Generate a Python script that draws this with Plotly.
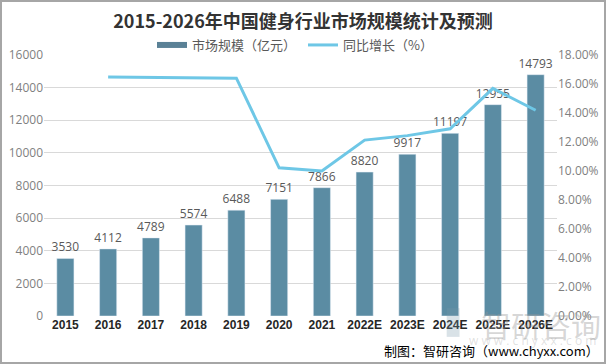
import plotly.graph_objects as go

years = ["2015", "2016", "2017", "2018", "2019", "2020", "2021",
         "2022E", "2023E", "2024E", "2025E", "2026E"]
market_size = [3530, 4112, 4789, 5574, 6488, 7151, 7866, 8820, 9917, 11197, 12955, 14793]
growth_years = ["2016", "2017", "2018", "2019", "2020", "2021",
                "2022E", "2023E", "2024E", "2025E", "2026E"]
growth_rate = [0.1649, 0.1646, 0.1639, 0.1640, 0.1022, 0.1000,
               0.1213, 0.1244, 0.1291, 0.1570, 0.1419]

left_ticks = [0, 2000, 4000, 6000, 8000, 10000, 12000, 14000, 16000]
right_ticks = [0, 0.02, 0.04, 0.06, 0.08, 0.10, 0.12, 0.14, 0.16, 0.18]

FONT = "Open Sans, Noto Sans CJK SC, sans-serif"
CJK = "Noto Sans CJK SC, sans-serif"
BAR_COLOR = "#5B8CA3"
LINE_COLOR = "#6EC7E6"

fig = go.Figure()
fig.add_trace(go.Bar(
    x=years, y=market_size, name="市场规模（亿元）", showlegend=False,
    marker=dict(color=BAR_COLOR),
    text=[str(v) for v in market_size], textposition="outside",
    constraintext="none",
    textfont=dict(size=12, color="#595959", family=FONT),
    cliponaxis=False,
))
# legend proxy for the bars (wide swatch, as in the original legend)
fig.add_trace(go.Scatter(
    x=[None], y=[None], name="市场规模（亿元）", mode="lines",
    line=dict(color="#5A8196", width=6),
))
fig.add_trace(go.Scatter(
    x=growth_years, y=growth_rate, name="同比增长（%）", yaxis="y2",
    mode="lines", line=dict(color=LINE_COLOR, width=3),
))

fig.update_layout(
    width=606, height=364,
    margin=dict(l=44, r=49, t=55, b=48, autoexpand=False),
    paper_bgcolor="white", plot_bgcolor="white",
    bargap=0.6,
    showlegend=True,
    legend=dict(orientation="h", x=(152 - 44) / 513, xanchor="left", y=1 + 10/261, yanchor="middle",
                font=dict(size=13, color="#595959", family=CJK),
                entrywidth=106, itemwidth=30, tracegroupgap=0),
    title=dict(text="<b>2015-2026年中国健身行业市场规模统计及预测</b>",
               x=0.5, xanchor="center", y=1 - 22/364, yanchor="middle",
               font=dict(size=18, color="#333333", family=CJK)),
    xaxis=dict(type="category", showgrid=False, showline=False, ticks="",
               tickfont=dict(size=12, color="#262626", family="Liberation Sans, sans-serif", weight="bold")),
    yaxis=dict(range=[0, 16000], tickvals=left_ticks, ticktext=[str(v) for v in left_ticks],
               showgrid=True, gridcolor="#D9D9D9", gridwidth=1, zeroline=False,
               tickfont=dict(size=12, color="#7F7F7F", family=FONT), ticks="", ticklen=0),
    yaxis2=dict(range=[0, 0.18], tickvals=right_ticks, tickformat=".2%",
                overlaying="y", side="right", showgrid=False, zeroline=False,
                tickfont=dict(size=12, color="#7F7F7F", family=FONT)),
    font=dict(family=FONT),
)

# watermark
fig.add_annotation(xref="paper", yref="paper", x=1.09, y=-0.03, xanchor="right", yanchor="middle",
                   text="智研咨询", showarrow=False,
                   font=dict(size=30, color="rgba(150,150,150,0.38)", family=CJK))
fig.add_annotation(xref="paper", yref="paper", x=1.08, y=-0.095, xanchor="right", yanchor="middle",
                   text="w w w . c h y x x . c o m", showarrow=False,
                   font=dict(size=12, color="rgba(150,150,150,0.3)", family=FONT))
fig.add_shape(type="rect", xref="paper", yref="paper", x0=0.785, x1=0.81, y0=-0.08, y1=0.03,
              fillcolor="rgba(120,150,170,0.28)", line=dict(width=0))
# source
fig.add_annotation(xref="paper", yref="paper", x=1.085, y=-(350-316)/261, xanchor="right", yanchor="middle",
                   text="制图：智研咨询（www.chyxx.com）", showarrow=False,
                   font=dict(size=13, color="#000000", family=CJK))
# border
fig.add_shape(type="rect", xref="paper", yref="paper",
              x0=-43/513, x1=1 + 48/513, y0=-47/261, y1=1 + 54/261,
              line=dict(color="#A6A6A6", width=2))

fig.write_html("out.html", config={"displayModeBar": False},
               post_script="document.body.style.margin='0';document.body.style.padding='0';")
